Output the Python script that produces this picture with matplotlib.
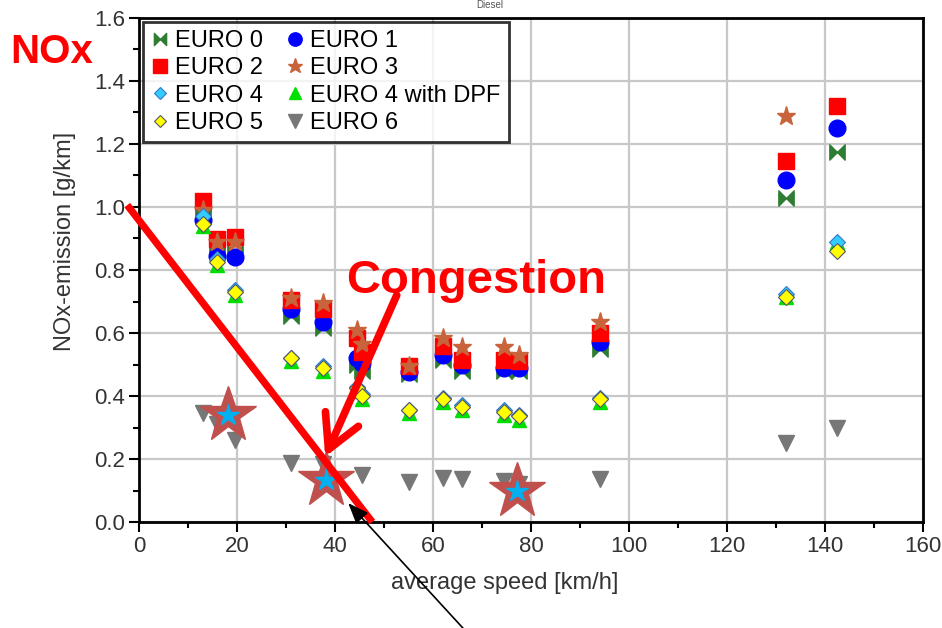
import numpy as np
import matplotlib
matplotlib.use("Agg")
import matplotlib.pyplot as plt
from matplotlib.path import Path

plt.rcParams['font.family'] = ['Liberation Sans', 'DejaVu Sans']

# ---------------- data ----------------
speeds = [13, 16, 19.5, 31, 37.5, 44.5, 45.5, 55, 62, 66, 74.5, 77.5, 94, 132, 142.5]

euro0 = [0.98, 0.86, 0.855, 0.655, 0.615, 0.50, 0.48, 0.47, 0.515, 0.48, 0.48, 0.48, 0.55, 1.03, 1.175]
euro1 = [0.96, 0.845, 0.84, 0.675, 0.635, 0.52, 0.505, 0.475, 0.53, 0.50, 0.49, 0.49, 0.57, 1.085, 1.25]
euro2 = [1.02, 0.90, 0.905, 0.705, 0.675, 0.585, 0.54, 0.495, 0.56, 0.515, 0.515, 0.51, 0.60, 1.145, 1.32]
euro3 = [0.99, 0.89, 0.89, 0.71, 0.695, 0.61, 0.565, 0.495, 0.585, 0.555, 0.555, 0.53, 0.635, 1.29, np.nan]
euro4 = [0.97, 0.835, 0.735, 0.52, 0.495, 0.43, 0.405, 0.355, 0.395, 0.37, 0.355, 0.34, 0.395, 0.725, 0.89]
euro4dpf = [0.94, 0.815, 0.72, 0.51, 0.48, 0.415, 0.39, 0.345, 0.38, 0.355, 0.34, 0.325, 0.38, 0.715, 0.89]
euro5 = [0.945, 0.825, 0.73, 0.52, 0.49, 0.425, 0.40, 0.355, 0.39, 0.365, 0.35, 0.336, 0.39, 0.715, 0.86]
euro6 = [0.345, 0.31, 0.26, 0.187, 0.185, np.nan, 0.15, 0.127, 0.14, 0.135, 0.13, 0.12, 0.135, 0.25, 0.30]

highlight_speed = [18.2, 38.2, 77.1]
highlight_nox = [0.34, 0.133, 0.10]

xticks = [0, 20, 40, 60, 80, 100, 120, 140, 160]
yticks = [0.0, 0.2, 0.4, 0.6, 0.8, 1.0, 1.2, 1.4, 1.6]

# ---------------- figure ----------------
fig = plt.figure(figsize=(9.42, 6.28), dpi=100)
ax = fig.add_axes([139/942, 1-522/628, (923-139)/942, (522-18)/628])

bowtie = Path([(-1, -1), (-1, 1), (0, 0), (1, 1), (1, -1), (0, 0), (-1, -1)],
              [Path.MOVETO, Path.LINETO, Path.LINETO, Path.LINETO, Path.LINETO,
               Path.LINETO, Path.CLOSEPOLY])

ax.plot(speeds, euro0, ls='none', marker=bowtie, ms=11, color='#2e7d32', mec='#2e7d32', label='EURO 0', zorder=3)
ax.plot(speeds, euro1, ls='none', marker='o', ms=12, color='#0000ff', mec='#0000ff', label='EURO 1', zorder=3)
ax.plot(speeds, euro2, ls='none', marker='s', ms=12, color='#ff0000', mec='#ff0000', label='EURO 2', zorder=3)
ax.plot(speeds, euro3, ls='none', marker='*', ms=14, color='#c8643c', mec='#c8643c', label='EURO 3', zorder=3)
ax.plot(speeds, euro4dpf, ls='none', marker='^', ms=10, color='#00e000', mec='#00e000', label='EURO 4 with DPF', zorder=3)
ax.plot(speeds, euro4, ls='none', marker='D', ms=8, color='#33ccff', mec='#3377cc', mew=0.8, label='EURO 4', zorder=3)
ax.plot(speeds, euro5, ls='none', marker='D', ms=8, color='#ffff00', mec='#555566', mew=0.8, label='EURO 5', zorder=3)
ax.plot(speeds, euro6, ls='none', marker='v', ms=12, color='#777777', mec='#777777', label='EURO 6', zorder=3)

ax.set_xlim(0, 160)
ax.set_ylim(0, 1.6)
ax.set_xticks(xticks)
ax.set_yticks(yticks)
ax.set_xticklabels([str(t) for t in xticks])
ax.set_yticklabels([f"{t:.1f}" for t in yticks])
ax.set_xticks(np.arange(10, 160, 20), minor=True)
ax.set_yticks(np.arange(0.1, 1.6, 0.2), minor=True)
ax.tick_params(axis='both', which='major', direction='out', length=7, width=1.5,
               labelsize=16, labelcolor='#333333', color='black', pad=3)
ax.tick_params(axis='both', which='minor', direction='out', length=4, width=1.5, color='black')
ax.grid(True, which='major', color='#c8c8c8', lw=1.6, zorder=0)
ax.set_axisbelow(True)
for s in ax.spines.values():
    s.set_linewidth(2)
    s.set_color('black')

ax.set_xlabel('average speed [km/h]', fontsize=17, color='#333333')
ax.xaxis.set_label_coords((505-139)/784, -61/504)
ax.xaxis.label.set_va('center')
ax.set_ylabel('NOx-emission [g/km]', fontsize=17, color='#333333')
ax.yaxis.set_label_coords((65-139)/784, (522-241)/504)
ax.yaxis.label.set_va('center')

# legend
h, l = ax.get_legend_handles_labels()
order = ['EURO 0', 'EURO 2', 'EURO 4', 'EURO 5', 'EURO 1', 'EURO 3', 'EURO 4 with DPF', 'EURO 6']
hd = dict(zip(l, h))
leg = ax.legend([hd[k] for k in order], order, ncol=2, loc='upper left',
                bbox_to_anchor=(4/784, (522-22)/504), borderaxespad=0,
                fontsize=17, frameon=True, fancybox=False, edgecolor='black',
                handlelength=0.75, handletextpad=0.25, columnspacing=1.0,
                labelspacing=0.22, borderpad=0.35, markerscale=0.8)
leg.get_frame().set_linewidth(2)
leg.set_zorder(5)

# highlight stars
ax.plot(highlight_speed, highlight_nox, ls='none', marker='*', ms=42, color='#c0504d',
        mec='#c0504d', zorder=6, clip_on=False)
ax.plot(highlight_speed, highlight_nox, ls='none', marker='*', ms=16, color='#00b0f0',
        mec='#00b0f0', zorder=7, clip_on=False)

# thick red line
ax.plot([-2.4, 47.6], [1.006, 0.0], color='red', lw=5.2, solid_capstyle='butt',
        zorder=8, clip_on=False)

# Congestion arrow
ax.annotate('', xy=(38.0, 0.207), xytext=(52.6, 0.72),
            arrowprops=dict(arrowstyle='->,head_length=1.2,head_width=0.65',
                            lw=5.5, color='red', mutation_scale=20,
                            shrinkA=0, shrinkB=0),
            zorder=9, annotation_clip=False)

# black pointer arrow
ax.annotate('', xy=(42.7, 0.06), xytext=(66.3, -0.34),
            arrowprops=dict(arrowstyle='-|>,head_length=0.9,head_width=0.35',
                            lw=1.2, color='black', mutation_scale=14,
                            shrinkA=0, shrinkB=0),
            zorder=9, annotation_clip=False)

fig.text(52/942, 1-52/628, 'NOx', color='red', fontsize=29, fontweight='bold',
         ha='center', va='center')
fig.text(476/942, 1-293/628, 'Congestion', color='red', fontsize=34, fontweight='bold',
         ha='center', va='baseline', zorder=10)
fig.text(490/942, 1.0, 'Diesel', color='#555555', fontsize=7, ha='center', va='top')

fig.savefig('out.png', dpi=100)
